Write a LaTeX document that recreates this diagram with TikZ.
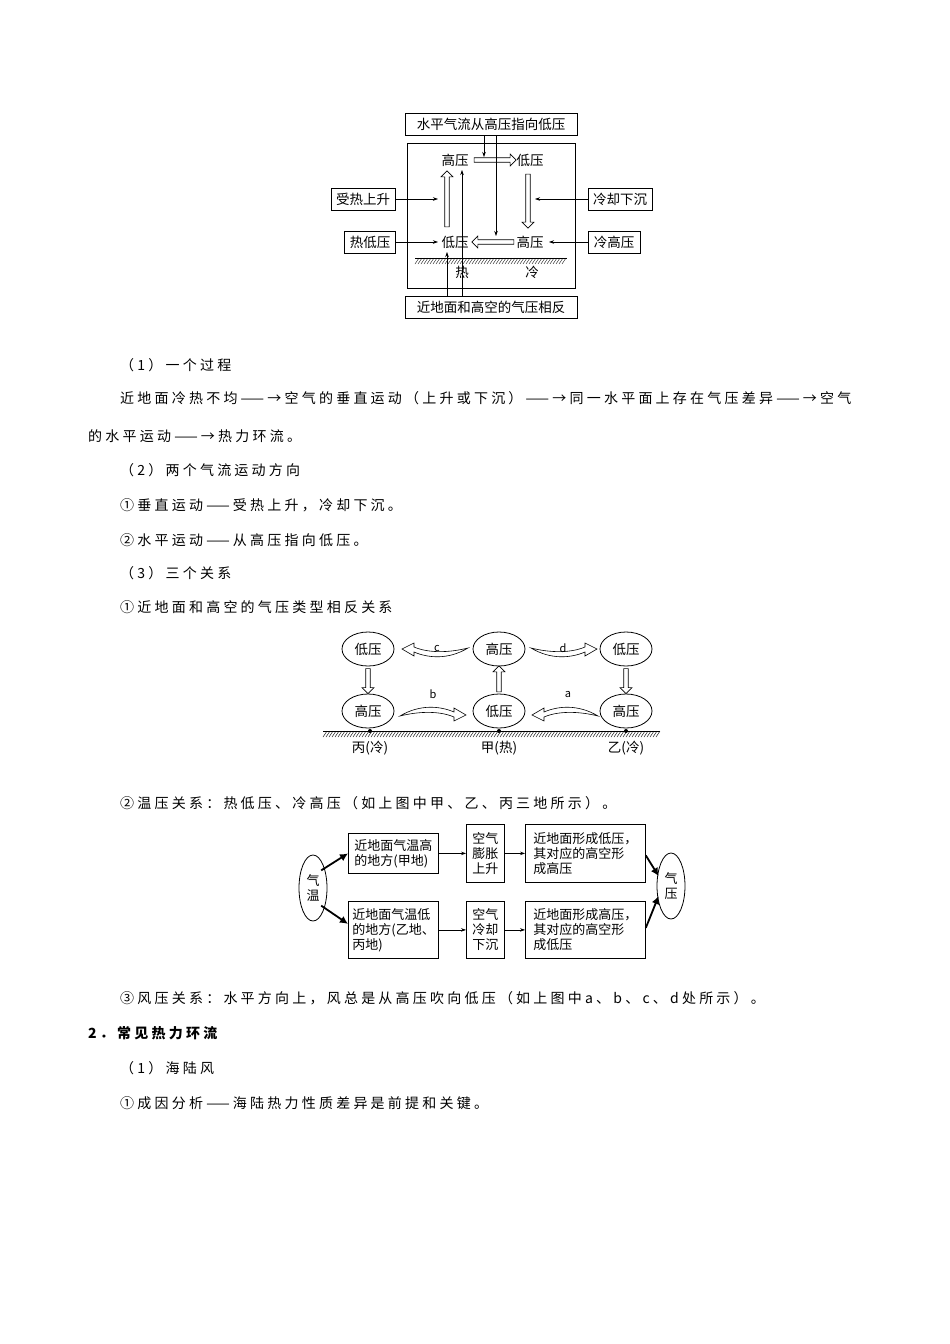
\documentclass[tikz,border=0pt]{standalone}
\usepackage{fontspec}
\setmainfont{Noto Sans CJK SC}
\newfontfamily\body[LetterSpace=23]{Noto Sans CJK SC}
\usetikzlibrary{shapes.geometric,shapes.arrows,arrows.meta}
\begin{document}
\begin{tikzpicture}[x=1pt,y=-1pt,
  txt/.style={anchor=west,inner sep=0pt,font=\body\fontsize{14}{14}\selectfont},
  lab/.style={inner sep=1pt,font=\fontsize{13.5}{14}\selectfont},
  bx/.style={draw,line width=0.8pt,inner sep=2pt,font=\fontsize{13.5}{14}\selectfont},
  hol/.style={single arrow,draw,fill=white,minimum width=12pt,single arrow head extend=3.5pt,inner sep=1.8pt,line width=0.6pt},
  thin/.style={line width=0.6pt,-{Stealth[length=5pt,width=3.5pt]}},
  ell/.style={ellipse,draw,line width=0.8pt,minimum width=52pt,minimum height=34pt,inner sep=0pt,font=\fontsize{13.5}{14}\selectfont},
  thick/.style={line width=1.8pt,-{Latex[length=8pt,width=8pt]}},
  fb/.style={draw,line width=0.8pt,align=left,anchor=north west,inner sep=4pt,font=\fontsize{13}{15}\selectfont}]
\useasboundingbox[fill=white] (0,0) rectangle (950,1344);
% ---------- top diagram ----------
\draw[line width=0.8pt] (407,143) rectangle (575,288);
\node[bx,minimum width=172pt,minimum height=22pt] (t) at (491,124) {水平气流从高压指向低压};
\node[bx,minimum width=172pt,minimum height=22pt] (bt) at (491,307) {近地面和高空的气压相反};
\node[bx,minimum width=64pt,minimum height=22pt] (sr) at (363,199) {受热上升};
\node[bx,minimum width=51pt,minimum height=22pt] (rd) at (370,242) {热低压};
\node[bx,minimum width=64pt,minimum height=22pt] (lq) at (620,199) {冷却下沉};
\node[bx,minimum width=52pt,minimum height=22pt] (lg) at (614,242) {冷高压};
\node[lab] (g1) at (455,160) {高压};
\node[lab] (d1) at (530,160) {低压};
\node[lab] (d2) at (455,242) {低压};
\node[lab] (g2) at (530,242) {高压};
\node[lab] (re) at (462,272) {热};
\node[lab] (le) at (532,272) {冷};
\node[hol,minimum height=42pt] (h1) at (494,160) {};
\node[hol,minimum height=42pt,shape border rotate=180] (h2) at (494,242) {};
\node[hol,minimum height=56pt,shape border rotate=90] (h3) at (447,200) {};
\node[hol,minimum height=54pt,shape border rotate=270] (h4) at (528,200) {};
\draw[line width=0.8pt] (415,258) -- (567,258);
\foreach \x in {415,418,...,564} \draw[line width=0.4pt] (\x,264) -- (\x+4,258);
\coordinate (a1) at (484,157); \coordinate (a2) at (496,236);
\coordinate (a3) at (447,252); \coordinate (a4) at (462,170);
\coordinate (a5) at (438,199); \coordinate (a6) at (438,242);
\coordinate (a7) at (535,199); \coordinate (a8) at (549,242);
\draw[thin] (t.south -| a1) -- (a1);
\draw[thin] (t.south -| a2) -- (a2);
\draw[thin] (bt.north -| a3) -- (a3);
\draw[thin] (bt.north -| a4) -- (a4);
\draw[thin] (sr.east) -- (a5);
\draw[thin] (rd.east) -- (a6);
\draw[thin] (lq.west) -- (a7);
\draw[thin] (lg.west) -- (a8);
% ---------- text ----------
\node[txt] (l1) at (120,365) {（1）一个过程};
\node[txt] (l2) at (120,398) {近地面冷热不均——→空气的垂直运动（上升或下沉）——→同一水平面上存在气压差异——→空气};
\node[txt] (l3) at (88,436) {的水平运动——→热力环流。};
\node[txt] (l4) at (120,470) {（2）两个气流运动方向};
\node[txt] (l5) at (120,505) {①垂直运动——受热上升，冷却下沉。};
\node[txt] (l6) at (120,540) {②水平运动——从高压指向低压。};
\node[txt] (l7) at (120,573) {（3）三个关系};
\node[txt] (l8) at (120,607) {①近地面和高空的气压类型相反关系};
\node[txt] (l9) at (120,803) {②温压关系：热低压、冷高压（如上图中甲、乙、丙三地所示）。};
\node[txt] (l10) at (120,998) {③风压关系：水平方向上，风总是从高压吹向低压（如上图中a、b、c、d处所示）。};
\node[txt,font=\body\bfseries\fontsize{14}{14}\selectfont] (l11) at (88,1033) {2．常见热力环流};
\node[txt] (l12) at (120,1068) {（1）海陆风};
\node[txt] (l13) at (120,1103) {①成因分析——海陆热力性质差异是前提和关键。};
% ---------- middle diagram ----------
\node[ell] (e1) at (368,649) {低压};
\node[ell] (e2) at (499,649) {高压};
\node[ell] (e3) at (626,649) {低压};
\node[ell] (e4) at (368,711) {高压};
\node[ell] (e5) at (499,711) {低压};
\node[ell] (e6) at (626,711) {高压};
\draw[line width=0.8pt] (323,731) -- (660,731);
\foreach \x in {323,326,...,656} \draw[line width=0.4pt] (\x,737) -- (\x+4,731);
\foreach \x/\n in {370/p1,499/p2,626/p3} \fill (\x,731) circle (2pt) coordinate (\n);
\node[lab] (b1) at (370,748) {丙(冷)};
\node[lab] (b2) at (499,748) {甲(热)};
\node[lab] (b3) at (626,748) {乙(冷)};
\node[hol,minimum height=25pt,shape border rotate=270] (v1) at (368,680) {};
\node[hol,minimum height=26pt,shape border rotate=90] (v2) at (499,680) {};
\node[hol,minimum height=25pt,shape border rotate=270] (v3) at (626,680) {};
\tikzset{crescent/.pic={\draw[fill=white,line width=0.6pt] (0,0) .. controls (20,12) and (40,10) .. (54,4) -- (54,8) -- (66,1) -- (54,-5) -- (54,-1) .. controls (40,5) and (20,5) .. (0,0) -- cycle;}}
\pic at (531,648) {crescent};
\pic[xscale=-1] at (468,648) {crescent};
\pic[yscale=-1] at (400,716) {crescent};
\pic[xscale=-1,yscale=-1] at (598,716) {crescent};
\node[lab,font=\fontsize{11}{12}\selectfont] (lc) at (437,648) {c};
\node[lab,font=\fontsize{11}{12}\selectfont] (ld) at (563,648) {d};
\node[lab,font=\fontsize{11}{12}\selectfont] (lb) at (433,694) {b};
\node[lab,font=\fontsize{11}{12}\selectfont] (la) at (568,694) {a};
% ---------- flow diagram ----------
\node[ellipse,draw,line width=0.8pt,minimum width=28pt,minimum height=66pt,inner sep=0pt,align=center,font=\fontsize{13}{15}\selectfont] (qw) at (313,888) {气\\温};
\node[ellipse,draw,line width=0.8pt,minimum width=28pt,minimum height=66pt,inner sep=0pt,align=center,font=\fontsize{13}{15}\selectfont] (qy) at (671,886) {气\\压};
\node[fb,minimum width=90pt,minimum height=40pt] (f1) at (348,833) {近地面气温高\\的地方(甲地)};
\node[fb,minimum width=38pt,minimum height=58pt,inner sep=3pt] (f2) at (466,824) {空气\\膨胀\\上升};
\node[fb,minimum width=120pt,minimum height=58pt] (f3) at (525,824) {近地面形成低压，\\其对应的高空形\\成高压};
\node[fb,minimum width=90pt,minimum height=57pt] (f4) at (348,901) {近地面气温低\\的地方(乙地、\\丙地)};
\node[fb,minimum width=38pt,minimum height=57pt,inner sep=3pt] (f5) at (466,901) {空气\\冷却\\下沉};
\node[fb,minimum width=120pt,minimum height=57pt] (f6) at (525,901) {近地面形成高压，\\其对应的高空形\\成低压};
\draw[thin] (f1.east) -- (f1.east -| f2.west);
\draw[thin] (f2.east) -- (f2.east -| f3.west);
\draw[thin] (f4.east) -- (f4.east -| f5.west);
\draw[thin] (f5.east) -- (f5.east -| f6.west);
\draw[thick] (qw.north east) ++(-2,6) -- (f1.west);
\draw[thick] (qw.south east) ++(-2,-6) -- ([yshift=6pt]f4.west);
\draw[thick] ([yshift=-2pt]f3.east) -- ([xshift=2pt,yshift=10pt]qy.west);
\draw[thick] ([yshift=2pt]f6.east) -- ([xshift=2pt,yshift=-10pt]qy.west);
\end{tikzpicture}
\end{document}
